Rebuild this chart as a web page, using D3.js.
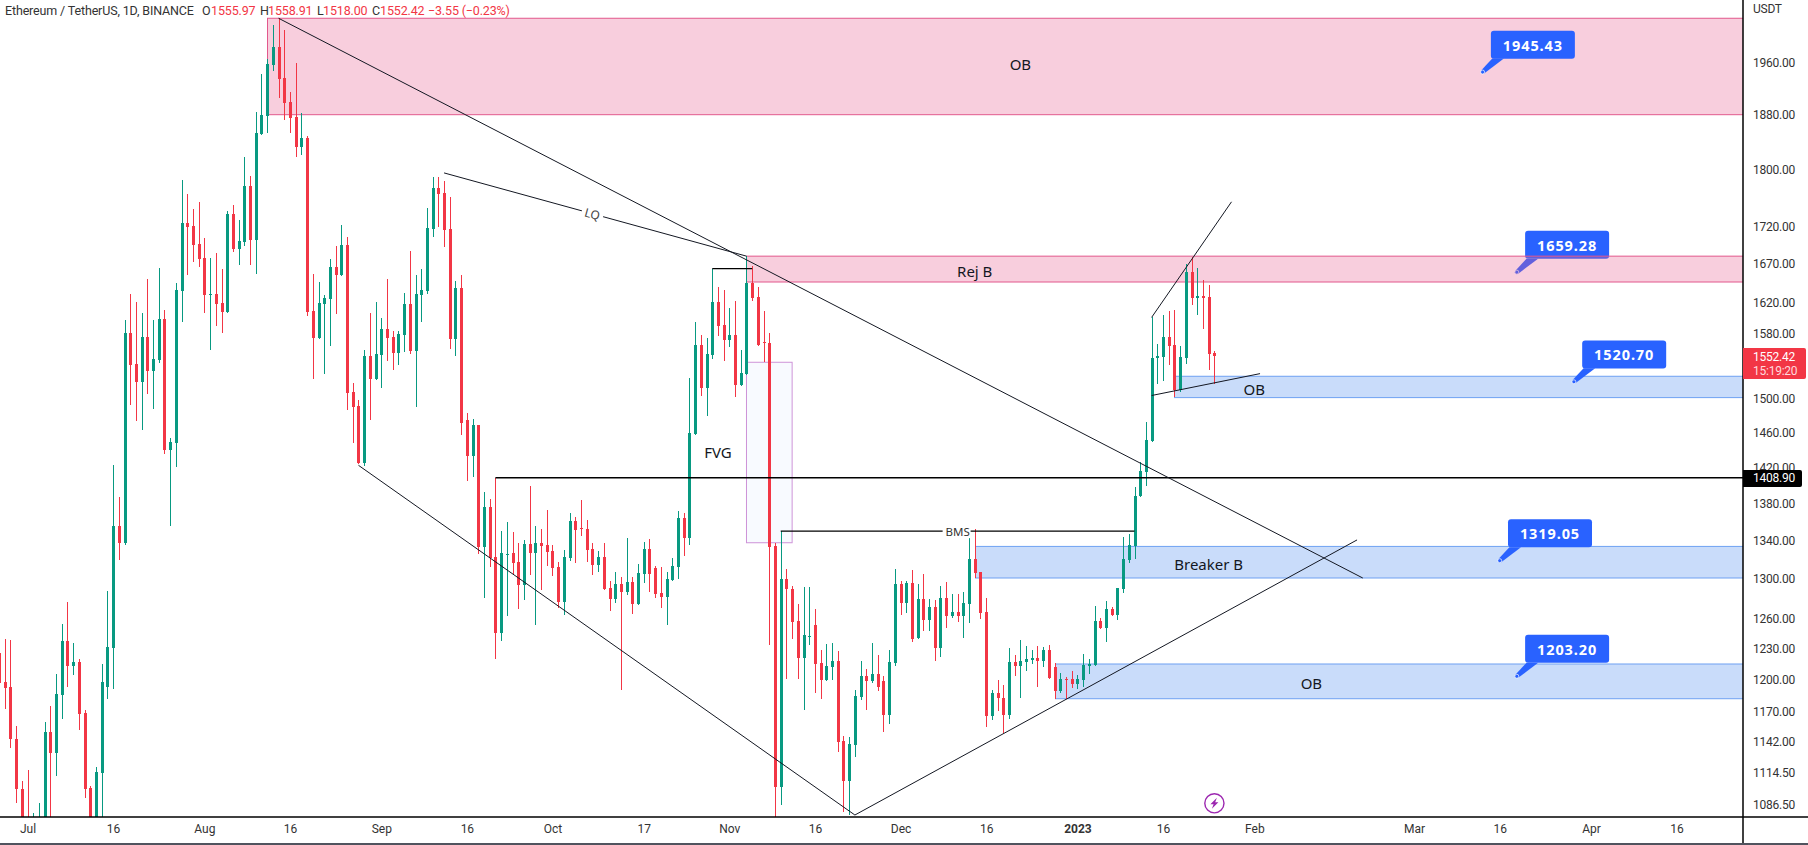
<!DOCTYPE html>
<html>
<head>
<meta charset="utf-8">
<script src="https://cdn.jsdelivr.net/npm/d3@7"></script>
<style>
html, body { margin: 0; padding: 0; background: #fff; overflow: hidden; }
svg { display: block; font-family: "Noto Sans", sans-serif; }
</style>
</head>
<body>
<div id="chart"></div>
<script>
// daily candles from 2022-06-26 to 2023-01-25
const firstDay = "2022-06-26";
const opens = [1225.6,1197.8,1192.8,1144.4,1100,1071,1059,1067,1074,1150.9,1132.1,1185.4,1237.5,1213.2,1217,1168.6,1100.5,1038,1114.3,1193.3,1230.8,1355.8,1337.3,1581.1,1542.5,1520.4,1576,1533.9,1547.4,1598.9,1440.2,1448.7,1634.8,1725.7,1721.6,1696.6,1678.3,1629.5,1630.8,1619.1,1607.7,1738,1690.2,1699.7,1777.1,1702.5,1852.1,1878.9,1956.8,1984.5,1936.6,1899.6,1877.4,1832.8,1846.2,1609,1574.7,1617.8,1624.2,1666.4,1655.9,1695.6,1508.2,1491.4,1426,1552.3,1524,1553.5,1586.2,1576,1555.9,1578.6,1617.8,1558.4,1629.5,1634.8,1717.5,1774.3,1767.2,1717.5,1573.4,1638.7,1475,1433.5,1469.3,1333.3,1376.6,1322.8,1245.4,1326,1327,1317.7,1293.8,1336.6,1327,1337.7,1335.5,1329,1312.5,1276.3,1321.8,1361.5,1353.4,1352.9,1331.2,1314.6,
1322.8,1290.7,1279.3,1294.9,1286.6,1296.9,1274.3,1305.2,1331.2,1311.4,1285.6,1281.4,1299,1312.5,1364.7,1343.1,1458.8,1566,1513,1553.5,1620.4,1591.3,1572.2,1578.6,1516.8,1530.2,1645.3,1626.9,1569,1568.5,1334.4,1101.7,1300,1289.7,1257.4,1220.8,1242.4,1253.4,1216,1199.8,1212.2,1218,1142.8,1107,1139.1,1183.5,1203.6,1198.8,1205.5,1198.8,1166.8,1216,1294.9,1275.3,1295.9,1240.5,1279.3,1258.4,1271.3,1230.5,1280.4,1262.4,1266.3,1262.4,1274.3,1320.8,1307.3,1266.3,1165.8,1187.3,1182.5,1166.8,1217,1213.2,1217,1218.9,1220.8,1218,1228.5,1212.2,1189.2,1200.7,1200.7,1195.9,1199.8,1213.2,1214.1,1257.4,1250.4,1269.3,1263.4,1289.7,1319.7,1334.4,1388.7,1415.5,1450.7,1549.8,1551,1576,1565.9,1510.6,1549.8,1659.8,1625.5,1628.2,1626.9,1555.97];
const highs = [1242.4,1239.5,1238.5,1156.6,1107,1116.8,1078.9,1088.2,1160.6,1175,1205.5,1254.4,1276.3,1235.2,1219.9,1171.4,1102.5,1119.4,1215.1,1287.3,1423.4,1387.2,1597.6,1630.8,1620.4,1606.5,1650.2,1597.2,1665,1610.2,1454.2,1645,1785.7,1765.7,1744.9,1754.5,1705.2,1678.3,1685.3,1663.8,1742.6,1750.4,1729.8,1818.4,1791.4,1884.8,1942.8,1965.5,2020,2030.5,2012,1915,1959.5,1883.2,1849.2,1657.2,1646.6,1629.5,1677,1694.3,1723,1706.6,1519.2,1498.4,1559.6,1606.4,1620.4,1600.2,1650.6,1583.6,1583.6,1631.7,1687.5,1655.9,1663.8,1746.3,1790,1790,1784.3,1761.5,1648,1655.9,1483.3,1476.3,1469.3,1393.2,1385.3,1408.5,1350.7,1360.4,1349.6,1337.7,1340.9,1399.9,1356,1352.9,1373.4,1335.5,1317.7,1330.1,1370.1,1365.8,1384.2,1362.6,1337.7,1329,
1337.7,1298,1307.3,1302.1,1343.1,1302.1,1315.6,1338.7,1342,1313.5,1312.5,1307.3,1321.8,1372.3,1370.1,1525.2,1594.9,1578.6,1574.7,1663.8,1640,1636,1612.8,1621.6,1559.6,1680.9,1667.7,1640,1609,1581.1,1337.7,1350.7,1310.4,1292.8,1274.3,1291.8,1291.8,1269.3,1228.5,1234.5,1235.5,1227.5,1147.4,1146.5,1190.2,1218,1210.3,1235.5,1223.7,1203.6,1228.5,1310.4,1298,1298,1309.4,1294.9,1305.2,1279.3,1278.3,1292.8,1297,1284.5,1284.5,1286.6,1349.6,1352.9,1307.3,1280.4,1190.2,1199.8,1195,1230.5,1223.7,1238.5,1232.5,1228.5,1232.5,1231.5,1233.5,1216,1206.5,1202.7,1208.4,1204.6,1224.7,1219.9,1272.3,1260.4,1277.3,1271.3,1290.7,1344.2,1347.5,1398.8,1426.8,1473.4,1601.4,1567.2,1604,1609,1610.2,1564.7,1670.4,1679.6,1665,1649.3,1642.7,1558.91];
const lows = [1197,1172.6,1136.6,1087.9,1000,1030,1030,1040,1050,1070,1111.7,1163.1,1193.3,1204.6,1153,1092,1030,1010,1060,1181.6,1191.4,1319.7,1335.5,1492.6,1474,1463,1506.6,1487.9,1544,1435.7,1356.4,1421.5,1594.2,1655.9,1673,1666.4,1606.8,1559.6,1590,1581.1,1606.4,1686.2,1669,1694.3,1669,1657.2,1850.6,1853.6,1947.5,1905.7,1872.9,1853.6,1818.9,1821.3,1602.6,1524,1573.4,1530.2,1564.7,1605.2,1654.6,1486.8,1448.3,1424.5,1422.4,1475,1522.8,1513,1546.1,1535.1,1541.2,1557.2,1554.7,1490.3,1595.2,1630.8,1706.6,1720.3,1692.9,1560.8,1552.3,1457.7,1405.5,1410,1326,1280.7,1312.5,1219.9,1237.5,1262.7,1304.2,1269.3,1278.3,1304.2,1253.4,1288.7,1313.5,1303.2,1270.3,1263.4,1318.7,1316.6,1345.2,1317.7,1304.2,1307.3,
1288.7,1267.3,1275.3,1190.2,1283.5,1264.4,1273.3,1295.9,1286.6,1280.4,1270.3,1253.4,1298,1300,1323.9,1335.5,1457.7,1503.3,1479.7,1548.6,1577.3,1546.1,1563.3,1502.1,1515.5,1529,1621.6,1564.7,1544.9,1233.5,1040,1086,1201,1239.5,1200.7,1171.4,1233.5,1187.3,1181.6,1198.8,1199.8,1132.7,1080,1077.4,1128.3,1180.6,1171.4,1196.9,1189.2,1151.1,1158.5,1213.2,1263.4,1265.4,1236.5,1239.5,1247.4,1247.4,1218,1221.8,1250.4,1260.4,1256.4,1240.5,1255.4,1301.1,1259.4,1155.7,1162.2,1170.5,1150,1163.1,1203.6,1182.5,1208.4,1215.1,1193,1212.2,1200.7,1181.6,1187.3,1181.6,1192.1,1191.1,1193,1205.5,1213.2,1249.4,1236.5,1262.4,1258.4,1285.6,1316.6,1320.8,1387.6,1400,1449.5,1518,1521.6,1541.2,1502.1,1508.2,1542.5,1616.6,1603.9,1586.2,1535.1,1518];
const closes = [1197.2,1192.4,1144.4,1099.7,1072,1059,1067,1074,1150.9,1132.1,1186.3,1237.5,1213.2,1217,1168,1100.1,1038,1114.7,1197.9,1231.5,1355.8,1337.7,1581.1,1541.6,1520.4,1576,1534.3,1548.6,1598.9,1440.2,1449.5,1636,1725.7,1720.3,1695.6,1677,1629.5,1630.8,1617.8,1607.7,1738,1690.2,1701.1,1777.1,1702.5,1853.6,1880.3,1958.3,1984.5,1935.1,1898.1,1875.9,1832.8,1846.2,1607.7,1574.7,1619.1,1625.5,1666.4,1655.9,1695.6,1507,1490.3,1425.6,1552.3,1524,1554.7,1586.2,1574.7,1555.9,1579.8,1617.8,1558.4,1630.8,1636,1718.9,1774.3,1765.7,1716.2,1573.4,1638.7,1472,1433.5,1469.3,1333.3,1376.6,1321.8,1245.4,1327,1326,1316.6,1293.8,1336.6,1327,1337.7,1334.4,1328,1311.4,1276.3,1322.8,1361.5,1351.8,1352.4,1330.1,1314.6,1322.8,
1289.7,1279.3,1294.9,1286.6,1296.9,1274.3,1306.3,1331.2,1305.2,1284.5,1281.4,1300,1313.5,1364.7,1343.1,1460,1566,1513,1554.7,1620.4,1590,1572.2,1578.6,1516.8,1531.4,1645.3,1625.5,1565.9,1567.8,1333.7,1101.7,1300,1289.7,1256.4,1220.8,1243.4,1242.4,1215.1,1199.8,1213.2,1218,1141.9,1107,1140,1184.4,1203.6,1198.8,1205.5,1193,1166.8,1217,1294.9,1275.3,1295.9,1239.5,1279.3,1258.4,1271.3,1230.5,1280.4,1262.4,1266.3,1262.4,1275.3,1320.8,1306.3,1265.4,1165.8,1187.3,1182.5,1166.8,1217,1213.2,1218,1219.9,1220.8,1218,1228.5,1201.7,1189.2,1200.7,1199.8,1195.9,1200.7,1214.1,1215.1,1257.4,1250.4,1269.3,1263.4,1290.7,1320.8,1335.5,1388.7,1416.6,1451.8,1549.8,1552.3,1576,1564.7,1510.6,1551,1659.8,1625.5,1628.2,1625.5,1554.7,1552.42];

// price axis
const priceTicks = [1960,1880,1800,1720,1670,1620,1580,1500,1460,1420,1380,1340,1300,1260,1230,1200,1170,1142,1114.5,1086.5];

// time axis
const timeTicks = ["2022-07-01","2022-07-16","2022-08-01","2022-08-16","2022-09-01","2022-09-16","2022-10-01","2022-10-17","2022-11-01","2022-11-16","2022-12-01","2022-12-16","2023-01-01","2023-01-16","2023-02-01","2023-03-01","2023-03-16","2023-04-01","2023-04-16"];

// drawings on top of the candles
const zoneNames = ["OB","Rej B","OB","Breaker B","OB"];
const zoneStart = ["2022-08-12","2022-11-04","2023-01-18","2022-12-14","2022-12-28"];
const zoneTop = [2030.5,1680.5,1527.4,1334.1,1215];
const zoneBottom = [1880.6,1646.3,1501.7,1301,1181.9];
const zoneKind = ["sell","sell","buy","buy","buy"];
const labelDay = ["2022-12-22","2022-12-14","2023-02-01","2023-01-24","2023-02-11"];

const calloutValues = [1945.43,1659.28,1520.70,1319.05,1203.20];
const calloutDays = ["2023-03-13","2023-03-19","2023-03-29","2023-03-16","2023-03-19"];

const trendLines = [
  ["2022-08-14",2030.5,"2023-02-20",1301],
  ["2022-08-28",1423,"2022-11-23",1077.5],
  ["2022-11-23",1077.5,"2023-02-19",1341],
  ["2023-01-14",1600.6,"2023-01-28",1754.7],
  ["2023-01-14",1504.2,"2023-02-02",1530.6],
  ["2022-09-12",1795.5,"2022-11-04",1680.5]
];
const steps = [
  ["2022-10-29","2022-11-05",1663.8],
  ["2022-11-10","2023-01-11",1350.4]
];
const levelDay = "2022-09-21", levelPrice = 1408.90;
const fvg = ["2022-11-04","2022-11-12",1544.5,1338];

const W = 1808, H = 845, plotR = 1743, plotB = 817;
const day = d3.utcParse("%Y-%m-%d");

const x = d3.scaleUtc().domain([day("2022-07-01"), day("2023-04-01")]).range([27.5, 1591]);
const y = d3.scaleLog().domain([2060.2, 1075.8]).range([0, plotB]);

const candles = opens.map((o, i) => ({
  date: d3.utcDay.offset(day(firstDay), i), o: o, h: highs[i], l: lows[i], c: closes[i]
}));

const green = "#089981", red = "#F23645", blue = "#2962FF";
const axisFont = "Roboto, sans-serif";

const svg = d3.select("#chart").append("svg").attr("width", W).attr("height", H);
svg.append("rect").attr("width", W).attr("height", H).attr("fill", "#fff");
svg.append("clipPath").attr("id", "plot").append("rect").attr("width", plotR).attr("height", plotB);
const plot = svg.append("g").attr("clip-path", "url(#plot)");

function callout(g, value, d) {
  const px = x(day(d)), py = y(value);
  const c = g.append("g").attr("transform", "translate(" + px + "," + py + ")");
  c.append("path").attr("fill", blue).attr("d", "M-1.5,-1.5L9.7,-13.5L21.3,-13.5L1.5,1.5Z");
  c.append("rect").attr("x", 8.3).attr("y", -41.4).attr("width", 84).attr("height", 28).attr("rx", 3).attr("fill", blue);
  c.append("circle").attr("r", 2).attr("fill", blue).attr("stroke", "#fff").attr("stroke-width", 0.7);
  c.append("text").attr("x", 50.3).attr("y", -27.4).attr("text-anchor", "middle").attr("dominant-baseline", "central")
    .attr("fill", "#fff").attr("font-size", 14.5).attr("font-weight", 700).attr("letter-spacing", 0.9).text(value.toFixed(2));
}

// this one sits under its zone in the picture
callout(plot, calloutValues[1], calloutDays[1]);

zoneStart.forEach((d, i) => {
  const sell = zoneKind[i] == "sell";
  plot.append("rect")
    .attr("x", Math.round(x(day(d))) + 0.5).attr("y", y(zoneTop[i]))
    .attr("width", plotR + 5 - x(day(d))).attr("height", y(zoneBottom[i]) - y(zoneTop[i]))
    .attr("fill", sell ? "#E75C8E" : "#C9DCFA").attr("fill-opacity", sell ? 0.3 : 1)
    .attr("stroke", sell ? "#E2588C" : "#6EA1F2").attr("stroke-width", 1);
});

plot.append("rect")
  .attr("x", x(day(fvg[0]))).attr("y", y(fvg[2]))
  .attr("width", x(day(fvg[1])) - x(day(fvg[0]))).attr("height", y(fvg[3]) - y(fvg[2]))
  .attr("fill", "#F8FAFF").attr("stroke", "#CE93D8");

// candles
const bars = plot.append("g").attr("shape-rendering", "crispEdges");
bars.selectAll("line").data(candles).join("line")
  .attr("x1", d => Math.round(x(d.date)) + 0.5).attr("x2", d => Math.round(x(d.date)) + 0.5)
  .attr("y1", d => y(d.h)).attr("y2", d => y(d.l))
  .attr("stroke", d => d.c >= d.o ? green : red);
bars.selectAll("rect").data(candles).join("rect")
  .attr("x", d => Math.round(x(d.date)) - 1).attr("width", 3)
  .attr("y", d => y(Math.max(d.o, d.c)))
  .attr("height", d => Math.max(1, Math.abs(y(d.o) - y(d.c))))
  .attr("fill", d => d.c >= d.o ? green : red);

// level, steps and trend lines
plot.append("line").attr("x1", x(day(levelDay))).attr("x2", plotR)
  .attr("y1", y(levelPrice)).attr("y2", y(levelPrice)).attr("stroke", "#000").attr("stroke-width", 1.4);
steps.forEach(s => {
  plot.append("line").attr("x1", x(day(s[0]))).attr("x2", x(day(s[1])))
    .attr("y1", y(s[2])).attr("y2", y(s[2])).attr("stroke", "#000").attr("stroke-width", 1.2);
});
trendLines.forEach(t => {
  plot.append("line").attr("x1", x(day(t[0]))).attr("y1", y(t[1]))
    .attr("x2", x(day(t[2]))).attr("y2", y(t[3])).attr("stroke", "#131722").attr("stroke-width", 1);
});

// LQ and BMS labels break their lines
const lqX = x(day("2022-10-08")), lqY = y(1738);
const lq = plot.append("g").attr("transform", "translate(" + lqX + "," + lqY + ") rotate(15.4)");
lq.append("rect").attr("x", -11).attr("y", -8).attr("width", 22).attr("height", 16).attr("fill", "#fff");
lq.append("text").attr("text-anchor", "middle").attr("dominant-baseline", "central")
  .attr("font-size", 12).attr("fill", "#444").text("LQ");
const bmsX = x(day("2022-12-11")), bmsY = y(1350.4);
plot.append("rect").attr("x", bmsX - 15).attr("y", bmsY - 7).attr("width", 28).attr("height", 14).attr("fill", "#fff");
plot.append("text").attr("x", bmsX).attr("y", bmsY).attr("text-anchor", "middle").attr("dominant-baseline", "central")
  .attr("font-size", 11.5).attr("fill", "#333").text("BMS");

// zone labels
zoneNames.forEach((n, i) => {
  plot.append("text").attr("x", x(day(labelDay[i]))).attr("y", (y(zoneTop[i]) + y(zoneBottom[i])) / 2 + (i == 0 ? -2 : 2))
    .attr("text-anchor", "middle").attr("dominant-baseline", "central")
    .attr("font-size", 15).attr("fill", "#131722").text(n);
});
plot.append("text").attr("x", x(day("2022-10-30"))).attr("y", y(1438)).attr("text-anchor", "middle")
  .attr("dominant-baseline", "central").attr("font-size", 15).attr("fill", "#131722").text("FVG");

[0, 2, 3, 4].forEach(i => callout(plot, calloutValues[i], calloutDays[i]));

// lightning mark
const bolt = plot.append("g").attr("transform", "translate(" + x(day("2023-01-25")) + ",803.3)");
bolt.append("circle").attr("r", 9.6).attr("fill", "#fff").attr("stroke", "#9C27B0").attr("stroke-width", 1.4);
bolt.append("path").attr("fill", "#9C27B0").attr("d", "M2.5,-5.5L-4,1L-0.8,1L-2.5,5.5L4,-1L0.8,-1Z");

// axes
const yAxis = svg.append("g").attr("transform", "translate(" + plotR + ",0)")
  .call(d3.axisRight(y).tickValues(priceTicks).tickSize(0).tickPadding(10).tickFormat(d3.format(".2f")));
yAxis.select(".domain").remove();
yAxis.selectAll("text").attr("font-family", axisFont).attr("font-size", 12).attr("letter-spacing", -0.25).attr("fill", "#333");

const xAxis = svg.append("g").attr("transform", "translate(0," + plotB + ")")
  .call(d3.axisBottom(x).tickValues(timeTicks.map(day)).tickSize(0).tickPadding(7).tickFormat(d => {
    if (d.getUTCMonth() == 0 && d.getUTCDate() == 1) return d.getUTCFullYear();
    return d.getUTCDate() == 1 ? d3.utcFormat("%b")(d) : d3.utcFormat("%-d")(d);
  }));
xAxis.select(".domain").remove();
xAxis.selectAll("text").attr("font-family", axisFont).attr("font-size", 12).attr("fill", "#333")
  .attr("font-weight", d => d.getUTCMonth() == 0 && d.getUTCDate() == 1 ? 700 : 400);

svg.append("line").attr("x1", plotR).attr("x2", plotR).attr("y1", 0).attr("y2", H - 2).attr("stroke", "#000").attr("stroke-width", 1.5);
svg.append("line").attr("x1", 0).attr("x2", W).attr("y1", plotB).attr("y2", plotB).attr("stroke", "#000").attr("stroke-width", 1.5);
svg.append("rect").attr("y", H - 2).attr("width", W).attr("height", 2).attr("fill", "#50535E");

// price tags
svg.append("path").attr("fill", red).attr("d", "M1743,348H1804a2,2 0 0 1 2,2V377a2,2 0 0 1 -2,2H1743Z");
svg.append("path").attr("fill", "#000").attr("d", "M1743,470H1800a2,2 0 0 1 2,2V485a2,2 0 0 1 -2,2H1743Z");
const tagText = svg.append("g").attr("font-family", axisFont).attr("font-size", 12).attr("letter-spacing", -0.25);
tagText.append("text").attr("x", 1753).attr("y", 9).attr("dominant-baseline", "central").attr("fill", "#333").text("USDT");
tagText.append("text").attr("x", 1753).attr("y", 357).attr("dominant-baseline", "central").attr("fill", "#fff").text("1552.42");
tagText.append("text").attr("x", 1753).attr("y", 371).attr("dominant-baseline", "central").attr("fill", "#FFD9DD").text("15:19:20");
tagText.append("text").attr("x", 1753).attr("y", y(levelPrice)).attr("dominant-baseline", "central").attr("fill", "#fff").text("1408.90");

// header line
const head = svg.append("text").attr("y", 10).attr("dominant-baseline", "central").attr("font-family", axisFont)
  .attr("font-size", 12.5).attr("letter-spacing", -0.15).attr("fill", "#333");
head.append("tspan").attr("x", 5).text("Ethereum / TetherUS, 1D, BINANCE");
const ohlcNames = ["O","H","L","C"], ohlcNameX = [202,260,317,372], ohlcValueX = [211,268,323,380];
const ohlcValues = ["1555.97","1558.91","1518.00","1552.42"];
ohlcNames.forEach((n, i) => {
  head.append("tspan").attr("x", ohlcNameX[i]).text(n);
  head.append("tspan").attr("x", ohlcValueX[i]).attr("fill", red).text(ohlcValues[i]);
});
head.append("tspan").attr("x", 428).attr("fill", red).text("\u22123.55 (\u22120.23%)");
</script>
</body>
</html>
